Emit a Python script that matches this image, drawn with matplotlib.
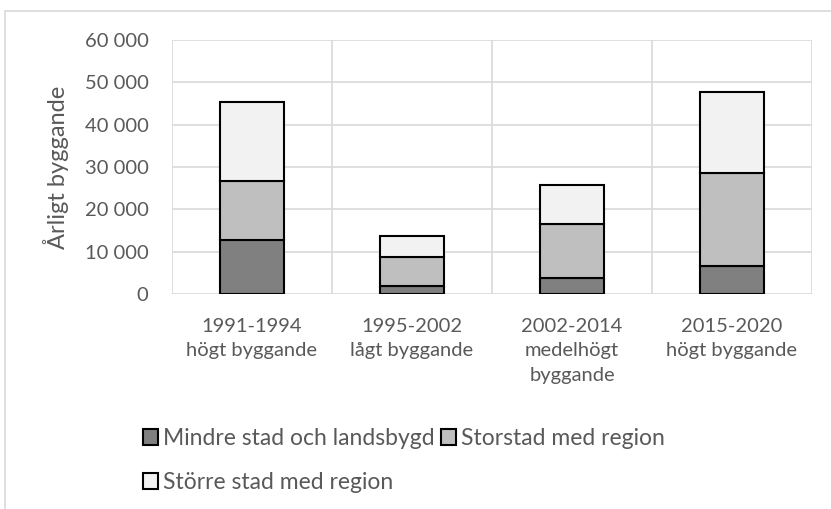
import matplotlib
matplotlib.use("Agg")
import matplotlib.pyplot as plt
from matplotlib.patches import Rectangle
import numpy as np

# Årligt byggande per period, tre regiontyper (avlästa värden)
perioder = ["1991-1994\nhögt byggande", "1995-2002\nlågt byggande",
            "2002-2014\nmedelhögt\nbyggande", "2015-2020\nhögt byggande"]
mindre_stad = [12800, 2000, 3700, 6500]
storstad = [13800, 6700, 12800, 22100]
storre_stad = [18800, 5100, 9200, 19200]
yticks = [0, 10000, 20000, 30000, 40000, 50000, 60000]

plt.rcParams['font.family'] = ['Lato', 'DejaVu Sans']
txt = '#595959'
grid = '#d9d9d9'

fig = plt.figure(figsize=(8.31, 5.09), dpi=100)
ax = fig.add_axes([172/831, 1 - 294/509, 640/831, 254/509])

x = np.arange(len(perioder))
w = 0.4
kw = dict(width=w, edgecolor='black', linewidth=1.5, zorder=3)
b1 = ax.bar(x, mindre_stad, color='#808080', label='Mindre stad och landsbygd', **kw)
b2 = ax.bar(x, storstad, bottom=mindre_stad, color='#bfbfbf', label='Storstad med region', **kw)
bot = np.array(mindre_stad) + np.array(storstad)
b3 = ax.bar(x, storre_stad, bottom=bot, color='#f2f2f2', label='Större stad med region', **kw)

ax.set_xlim(-0.5, len(perioder) - 0.5)
ax.set_ylim(0, 60000)
ax.set_yticks(yticks)
ax.set_yticklabels([f"{v:,}".replace(",", " ") for v in yticks])
ax.set_xticks(x)
ax.set_xticklabels(perioder, linespacing=1.55)
# vertikala linjer mellan kategorierna
ax.set_xticks(np.arange(-0.5, len(perioder)), minor=True)
ax.grid(axis='x', which='minor', color=grid, linewidth=1.2, zorder=0)
ax.grid(axis='y', which='major', color=grid, linewidth=1.2, zorder=0)
ax.tick_params(axis='both', which='both', length=0, labelsize=14.5, colors=txt)
ax.tick_params(axis='y', pad=17)
ax.tick_params(axis='x', pad=17)
for s in ax.spines.values():
    s.set_visible(False)
ax.set_axisbelow(True)
ax.set_ylabel('Årligt byggande', fontsize=17, color=txt, labelpad=11)

fig.legend([b1, b3, b2], ['Mindre stad och landsbygd', 'Större stad med region', 'Storstad med region'],
           ncol=2, loc='upper left', bbox_to_anchor=(134/831, 1 - 419/509), frameon=False,
           fontsize=16.5, labelcolor=txt, handlelength=0.65, handleheight=0.65,
           handletextpad=0.2, columnspacing=0.3, labelspacing=1.0, borderaxespad=0)

# ramen runt diagrammet
fig.patches.append(Rectangle((5/831, -0.1), 1.2, 1 - 11/509 + 0.1, transform=fig.transFigure,
                             fill=False, edgecolor=grid, linewidth=1.2))

fig.savefig('out.png', dpi=100)
